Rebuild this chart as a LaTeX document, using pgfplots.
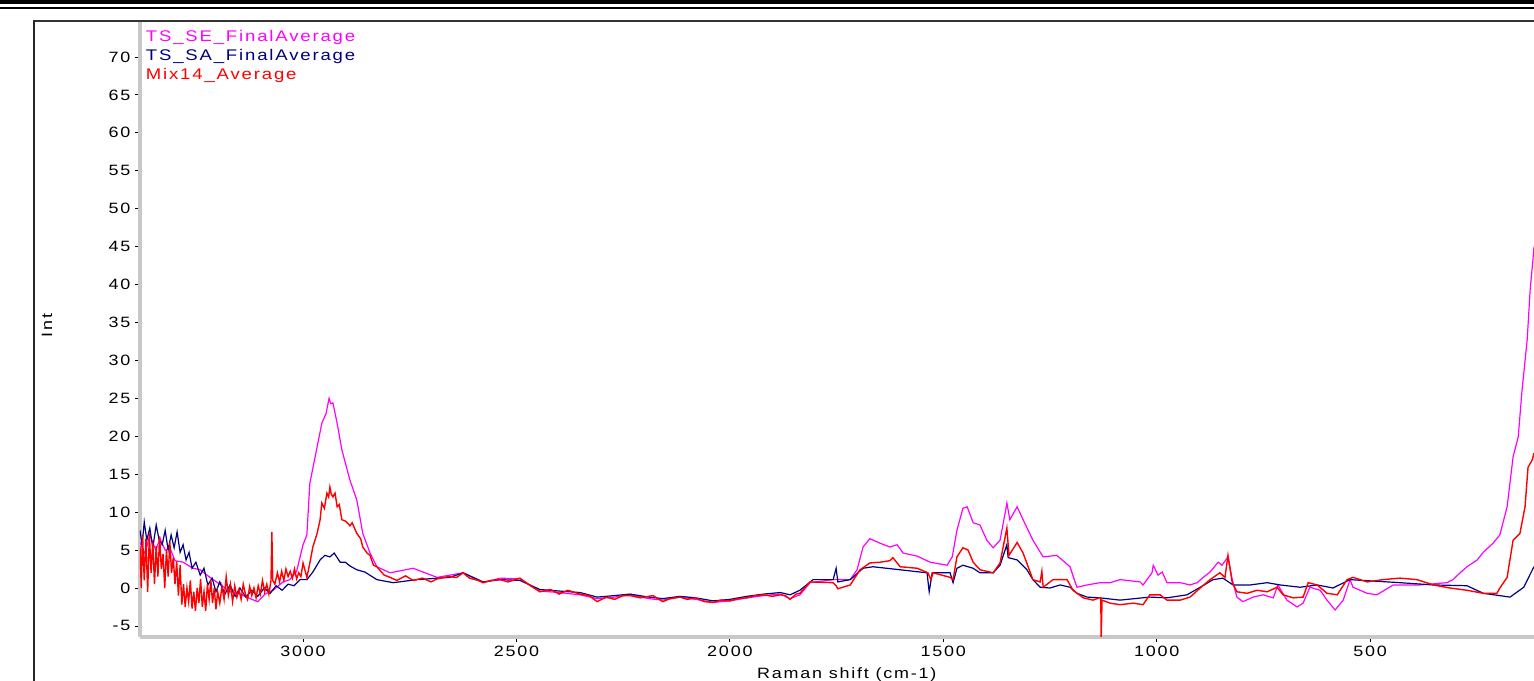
\documentclass[border=0pt]{standalone}
\usepackage{pgfplots}
\pgfplotsset{compat=1.18}
\usepackage{fontspec}
\setmainfont[FakeStretch=1.2,LetterSpace=12]{Liberation Sans}
\definecolor{semag}{RGB}{255,0,255}
\definecolor{sanavy}{RGB}{0,0,128}
\definecolor{mixred}{RGB}{255,0,0}
\definecolor{axgray}{RGB}{200,200,200}
\begin{document}
\begin{tikzpicture}[x=1bp,y=1bp]
\path[use as bounding box] (-140,-44) rectangle (1394,637);
\begin{axis}[
  at={(0,0)}, anchor=south west,
  scale only axis, width=1394bp, height=617bp,
  x dir=reverse,
  xmin=116, xmax=3382, ymin=-6.46, ymax=74.87,
  axis x line*=bottom, axis y line*=left,
  axis line style={axgray, line width=3.5bp, -},
  xtick={500,1000,1500,2000,2500,3000},
  ytick={-5,0,5,10,15,20,25,30,35,40,45,50,55,60,65,70},
  minor x tick num=4, minor y tick num=4,
  tick style={black, line width=0.8bp},
  major tick length=5bp, minor tick length=2bp,
  tick align=outside,
  /pgf/number format/assume math mode=true,
  /pgf/number format/set thousands separator={},
  tick label style={font=\fontsize{15}{17}\selectfont, black},
  yticklabel style={xshift=-1bp},
  xticklabel style={yshift=-1bp},
  label style={font=\fontsize{15}{17}\selectfont},
  xlabel={Raman shift (cm-1)},
  ylabel={Int},
  xlabel style={at={(axis description cs:0.507,-0.0616)}, anchor=center},
  ylabel style={at={(axis description cs:-0.0667,0.505)}, anchor=center},
  clip=true,
  legend cell align=left,
  legend image code/.code={},
  legend style={at={(axis description cs:0.003,0.986)}, anchor=north west,
    draw=none, fill=none, inner sep=0pt, row sep=3.5bp,
    font=\fontsize{15.5}{17}\selectfont,
    nodes={inner sep=1.5bp}},
]
% TS_SE_FinalAverage
\addplot[semag, line width=1.2bp] coordinates {
(3382,6.0)(3370,4.5)(3359,7.0)(3345,5.0)(3335,6.5)(3323,5.0)(3312,5.3)(3300,3.6)(3281,3.4)(3258,2.6)(3241,2.4)(3218,1.4)(3195,0.5)(3171,-0.5)(3148,-0.8)(3120,-1.5)(3106,-1.8)(3089,-0.8)(3070,-0.3)(3047,0.8)(3031,1.1)(3015,2.2)(3000,5.7)(2991,7.0)(2984,13.8)(2967,18.6)(2956,21.7)(2946,23.0)(2939,25.0)(2935,24.3)(2930,24.4)(2920,21.7)(2909,18.2)(2890,14.2)(2874,11.6)(2860,7.2)(2843,4.6)(2827,2.8)(2796,2.0)(2742,2.6)(2686,1.4)(2625,2.0)(2578,0.7)
(2538,1.3)(2492,1.2)(2445,-0.4)(2400,-0.6)(2351,-0.9)(2311,-1.4)(2270,-1.2)(2234,-0.9)(2190,-1.4)(2157,-1.6)(2117,-1.2)(2080,-1.5)(2039,-1.9)(2000,-1.7)(1960,-1.3)(1920,-1.0)(1882,-0.8)(1859,-1.4)(1836,-0.9)
(1812,0.7)(1758,1.1)(1718,1.1)(1702,2.4)(1688,5.4)(1672,6.5)(1648,5.9)(1625,5.4)(1608,5.7)(1594,4.6)(1561,4.2)(1531,3.4)(1491,3.0)(1479,4.1)(1468,7.6)(1454,10.5)(1444,10.7)(1430,8.6)(1414,8.3)(1398,6.3)(1383,5.3)(1367,6.3)(1355,9.9)(1351,11.2)(1344,9.0)(1327,10.7)(1313,9.0)(1290,6.3)(1266,4.1)(1234,4.3)(1203,2.8)(1187,0.1)(1163,0.4)(1133,0.7)(1109,0.7)(1086,1.1)(1039,0.8)(1032,0.4)(1011,2.0)(1008,3.0)(997,1.7)(987,2.1)(976,0.7)(945,0.7)(922,0.4)(905,0.7)(891,1.4)(875,2.1)(856,3.4)(847,3.0)(833,4.1)(823,1.1)(812,-1.2)(798,-1.8)(774,-1.2)(751,-0.9)(727,-1.3)(716,0.4)(695,-1.6)(671,-2.5)(657,-2.0)(641,0.1)(617,-0.3)(601,-1.6)(582,-2.9)(563,-1.6)(547,1.1)(540,0.1)(507,-0.7)(484,-0.9)(446,0.4)(383,0.4)(320,0.7)(306,1.1)(289,2.0)(273,2.8)(249,3.7)(235,4.7)(212,5.9)(196,7.0)(179,10.7)(165,17.3)(153,19.9)(144,26.1)(132,32.7)(125,39.3)(118,43.6)(116,45)
};
\addlegendentry{\textcolor{semag}{TS\_SE\_FinalAverage}}
% TS_SA_FinalAverage
\addplot[sanavy, line width=1.2bp] coordinates {
(3382,7.6)(3377,5.7)(3372,8.7)(3366,6.3)(3359,7.9)(3352,5.3)(3344,8.3)(3337,6.3)(3330,5.7)(3323,7.6)(3316,5.0)(3309,7.0)(3302,5.3)(3295,7.4)(3288,4.7)(3281,5.7)(3274,3.7)(3267,4.7)(3260,2.6)(3251,3.4)(3241,1.7)(3232,2.6)(3223,0.4)(3213,1.3)(3204,-0.5)(3195,0.8)(3183,-0.8)(3171,0.4)(3159,-1.1)(3148,0)(3134,-1.2)(3120,-0.3)(3106,-1.1)(3091,0)(3077,-0.7)(3063,0.3)(3049,-0.3)(3035,0.5)(3021,0.3)(3007,1.1)(2991,1.1)(2977,2.1)(2960,3.7)(2949,4.3)(2937,4.1)(2927,4.6)(2913,3.4)(2901,3.4)(2890,2.9)(2874,2.4)(2855,2.1)(2827,1.1)(2789,0.7)(2733,1.1)(2656,1.4)(2625,2.0)(2578,0.8)
(2538,1.1)(2492,1.0)(2445,-0.2)(2400,-0.4)(2351,-0.6)(2311,-1.2)(2270,-1.0)(2234,-0.8)(2190,-1.2)(2157,-1.4)(2117,-1.1)(2080,-1.3)(2039,-1.7)(2000,-1.5)(1960,-1.1)(1920,-0.8)(1882,-0.6)(1859,-0.9)(1836,-0.3)
(1805,1.1)(1758,1.1)(1751,2.6)(1747,0.8)(1718,1.1)(1688,2.6)(1665,2.8)(1601,2.4)(1538,2.0)(1533,-0.5)(1526,2.0)(1484,2.0)(1477,0.7)(1468,2.6)(1454,3.0)(1430,2.6)(1414,2.0)(1383,2.0)(1367,3.0)(1351,5.7)(1348,4.0)(1327,3.7)(1304,2.4)(1290,1.1)(1273,0.1)(1250,0)(1226,0.4)(1203,0.1)(1187,-0.7)(1163,-1.2)(1133,-1.3)(1086,-1.6)(1016,-1.2)(976,-1.3)(929,-0.9)(898,0.1)(868,1.1)(845,1.3)(821,0.4)(781,0.4)(741,0.7)(711,0.4)(664,0.1)(624,0.4)(587,0)(547,1.1)(430,0.7)(352,0.4)(273,0.3)(235,-0.7)(172,-1.2)(140,0.1)(118,2.6)(116,2.8)
};
\addlegendentry{\textcolor{sanavy}{TS\_SA\_FinalAverage}}
% Mix14_Average
\addplot[mixred, line width=1.4bp] coordinates {
(3382,5.5)(3379,0.0)(3376,7.0)(3372,1.0)(3368,6.5)(3364,-0.5)(3360,7.2)(3356,2.0)(3352,6.0)(3348,0.5)(3344,5.5)(3340,1.5)(3336,6.8)(3332,2.5)(3328,4.5)(3324,0.0)(3320,5.0)(3316,1.5)(3312,6.0)(3308,2.0)(3304,4.0)(3300,0.5)(3296,3.5)(3292,-1.0)(3288,3.0)(3284,-2.2)(3280,0.5)(3276,-2.5)(3272,0.0)(3268,-1.8)(3264,1.0)(3260,-2.7)(3256,-0.5)(3252,-3.0)(3248,0.0)(3244,-2.0)(3240,1.2)(3236,-2.5)(3232,-0.5)(3228,-3.0)(3224,0.5)(3220,-1.5)(3216,1.0)(3212,-2.0)(3208,0.0)(3204,-2.8)(3200,-0.5)(3195,-2.0)(3190,0.2)(3185,-1.5)(3180,1.5)(3175,-1.0)(3170,0.5)(3165,-1.8)(3160,0.3)(3155,-1.2)(3150,-0.2)(3145,-1.5)(3140,0.5)(3135,-0.8)(3130,-1.5)(3125,0.2)(3120,-1.0)(3115,0.0)(3110,-1.3)(3105,0.3)(3100,-0.8)(3095,1.0)(3090,-0.5)(3085,0.5)(3080,-0.8)(3075,1.0)(3073,7.4)(3071,1.0)(3066,0.5)(3060,2.0)(3055,0.8)(3050,2.2)(3045,1.0)(3040,2.5)(3035,1.5)(3030,2.2)(3025,1.3)(3020,2.5)(3015,1.2)(3010,2.0)(3005,1.5)(3000,3.3)(2991,1.4)(2985,3.0)(2977,5.4)(2967,7.2)(2960,9.0)(2956,11.2)(2950,10.5)(2944,12.5)(2940,12.0)(2937,13.3)(2934,12.4)(2930,12.0)(2925,12.5)(2920,10.7)(2915,11.0)(2909,9.0)(2900,8.8)(2890,8.2)(2885,8.6)(2874,7.2)(2865,6.5)(2860,5.4)(2850,4.6)(2843,4.3)(2835,3.0)(2827,2.8)(2810,1.7)(2796,1.4)(2780,1.0)(2760,1.6)(2742,1.0)(2720,1.3)(2700,0.8)(2686,1.2)(2660,1.5)(2640,1.4)(2625,2.0)(2610,1.3)(2590,1.0)(2578,0.7)(2560,1.0)(2538,1.1)(2520,0.8)(2492,1.3)(2470,0.4)(2445,-0.5)(2420,-0.2)(2400,-0.8)(2380,-0.3)(2351,-0.8)(2330,-1.0)(2311,-1.8)(2290,-1.2)(2270,-1.5)(2250,-1.0)(2234,-1.0)(2210,-1.3)(2180,-1.0)(2157,-1.8)(2140,-1.4)(2117,-1.2)(2100,-1.5)(2080,-1.3)(2060,-1.8)(2039,-1.9)(2020,-1.6)(2000,-1.7)(1980,-1.4)(1960,-1.3)(1940,-1.0)(1920,-0.9)(1900,-1.1)(1882,-0.9)(1870,-1.0)(1859,-1.5)(1845,-0.8)(1836,-0.7)(1812,0.8)(1758,0.7)(1751,0.3)(1747,-0.1)(1718,0.4)(1695,2.4)(1672,3.3)(1648,3.4)(1625,3.6)(1618,4.0)(1601,2.8)(1561,2.6)(1536,2.0)(1529,1.1)(1524,2.0)(1484,1.4)(1477,1.1)(1468,4.1)(1454,5.3)(1442,5.0)(1430,3.4)(1414,2.4)(1383,2.0)(1367,3.3)(1351,7.9)(1346,4.3)(1327,6.0)(1313,4.6)(1290,1.1)(1273,0.8)(1269,2.2)(1266,0.1)(1243,1.1)(1210,1.1)(1196,-0.3)(1172,-1.3)(1149,-1.6)(1135,-1.3)(1131,-1.3)(1130,-6.5)(1128,-1.6)(1109,-2.0)(1086,-2.2)(1055,-2.0)(1032,-2.2)(1016,-0.9)(992,-0.9)(976,-1.6)(945,-1.6)(922,-1.2)(898,0)(875,1.1)(852,2.0)(840,1.4)(833,4.3)(823,0.7)(812,-0.5)(788,-0.7)(765,-0.3)(741,-0.5)(718,0.1)(704,-0.9)(680,-1.3)(657,-1.2)(645,0.7)(624,0.4)(601,-0.7)(577,-0.9)(554,1.1)(540,1.4)(507,0.8)(470,1.1)(430,1.3)(390,1.1)(352,0.4)(313,0)(273,-0.3)(235,-0.7)(203,-0.7)(196,0)(179,1.4)(165,6.3)(149,7.2)(137,10.7)(130,15.9)(120,16.9)(116,17.8)
};
\addlegendentry{\textcolor{mixred}{Mix14\_Average}}
\end{axis}
% window frame
\fill[black] (-140,632.5) rectangle (1394,637);
\draw[black, line width=2bp] (-140,629) -- (1394,629);
\draw[black!80, line width=2bp] (-107,616) -- (1394,616);
\draw[black!85, line width=2.5bp] (-106,616) -- (-106,-44);
\end{tikzpicture}
\end{document}
